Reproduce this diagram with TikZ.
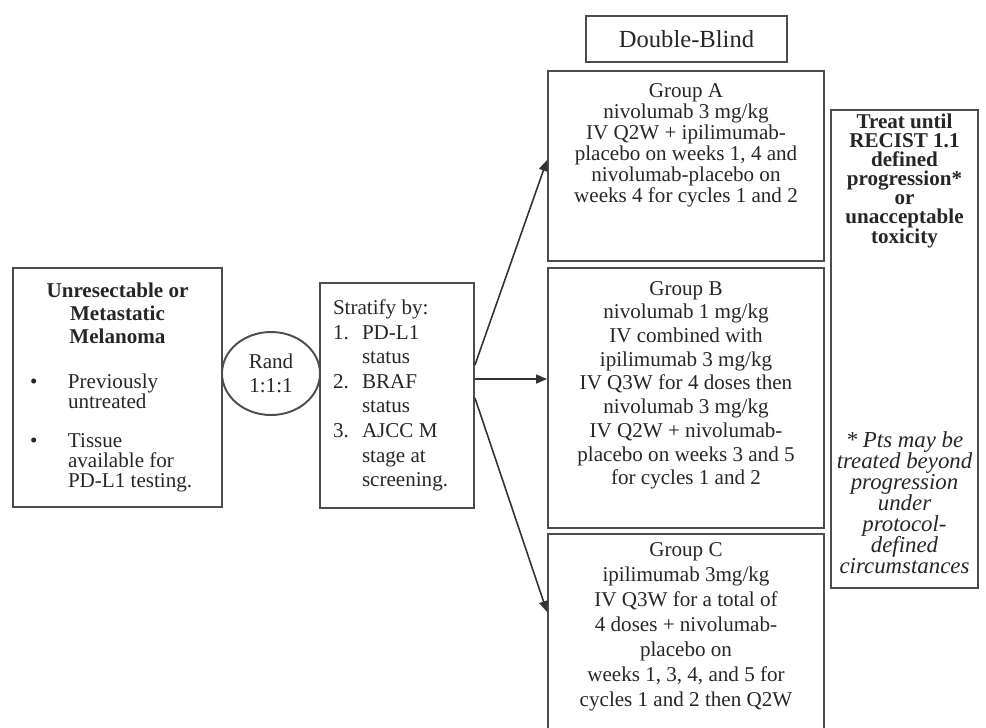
\documentclass[tikz,border=0pt]{standalone}
\usepackage{fontspec}
\setmainfont{Liberation Serif}
\usetikzlibrary{shapes.geometric}
\usetikzlibrary{arrows.meta}

\newcommand{\bulletItem}[1]{% #1: item text, lines split by \\
    \begingroup\let\\\newline
    \hangindent=1.1cm\hangafter=1\noindent\hspace*{0.34cm}\makebox[0.76cm][l]{\textbullet}#1\par
    \endgroup}
\newcommand{\numItem}[2]{% #1: number, #2: item text
    \begingroup\let\\\newline
    \hangindent=0.58cm\hangafter=1\noindent\makebox[0.58cm][l]{#1}#2\par
    \endgroup}
\newcommand{\topText}[4]{% #1: width, #2: height, #3: top gap, #4: text
    \parbox[c][#2][t]{#1}{\centering\vspace*{#3}#4}}

\begin{document}
\begin{tikzpicture}[
    x=0.02cm, y=-0.02cm,
    every node/.style={text=black!85},
    box/.style={draw=black!70, line width=1.1pt, inner sep=0pt},
    arm/.style={box, anchor=north},
    link/.style={black!80, line width=0.9pt, -{Triangle[length=2.2mm, width=1.8mm]}}
]
    % picture area, cuts off the foot of Group C
    \clip (0,0) rectangle (986,727);

    % Patients
    \node[box] (patients) at (117.5,387.5) {\parbox[c][4.78cm][c]{4.18cm}{%
        {\centering\bfseries\fontsize{12}{13}\selectfont Unresectable or\\ Metastatic\\ Melanoma\par}
        \vspace{14pt}
        \raggedright\fontsize{12}{11.4}\selectfont
        \bulletItem{Previously\\ untreated}
        \vspace{10.8pt}
        \bulletItem{Tissue\\ available for\\ PD-L1 testing.}}};

    % Randomisation
    \node[draw=black!70, line width=1.1pt, ellipse, minimum width=1.96cm, minimum height=1.66cm,
        inner sep=0pt, align=center, font=\fontsize{12}{14}\selectfont] (rand) at (271,373.5) {Rand\\1:1:1};

    % Stratification
    \node[box] (stratify) at (397,395.5) {\parbox[c][4.5cm][c]{3.08cm}{%
        \raggedright\leftskip=0.26cm\fontsize{12}{14}\selectfont
        Stratify by:\par
        \numItem{1.}{PD-L1\\ status}
        \numItem{2.}{BRAF\\ status}
        \numItem{3.}{AJCC M\\ stage at\\ screening.}}};

    % Arms
    \node[box, minimum width=4.02cm, minimum height=0.92cm, font=\fontsize{14}{16}\selectfont] (blind) at (686.5,39) {Double-Blind};

    \node[arm] (grpA) at (686,70) {\topText{5.52cm}{3.8cm}{7pt}{\fontsize{12}{12}\selectfont
        Group A\\ nivolumab 3 mg/kg\\ IV Q2W + ipilimumab-\\ placebo on weeks 1, 4 and\\
        nivolumab-placebo on\\ weeks 4 for cycles 1 and 2}};
    \node[arm] (grpB) at (686,267) {\topText{5.52cm}{5.2cm}{7.5pt}{\fontsize{12}{13.5}\selectfont
        Group B\\ nivolumab 1 mg/kg\\ IV combined with\\ ipilimumab 3 mg/kg\\ IV Q3W for 4 doses then\\
        nivolumab 3 mg/kg\\ IV Q2W + nivolumab-\\ placebo on weeks 3 and 5\\ for cycles 1 and 2}};
    \node[arm] (grpC) at (686,533) {\topText{5.52cm}{4.4cm}{5pt}{\fontsize{12}{14.2}\selectfont
        Group C\\ ipilimumab 3mg/kg\\ IV Q3W for a total of\\ 4 doses + nivolumab-\\ placebo on\\
        weeks 1, 3, 4, and 5 for\\ cycles 1 and 2 then Q2W}};

    % Treatment note
    \node[box] (treat) at (904.5,349) {\parbox[c][9.56cm][t]{2.94cm}{\centering
        \vspace*{2pt}{\bfseries\fontsize{12}{10.8}\selectfont Treat until\\ RECIST 1.1\\ defined\\ progression*\\ or\\ unacceptable\\ toxicity\par}
        \vfill
        {\itshape\fontsize{13}{12}\selectfont * Pts may be\\ treated beyond\\ progression\\ under\\ protocol-\\ defined\\ circumstances\par}
        \vspace*{8pt}}};

    % Arrows to the arms
    \coordinate (fork) at ([yshift=0.33cm]stratify.east);
    \draw[link] ([yshift=0.28cm]fork) -- ([yshift=-1.8cm]grpA.north west);
    \draw[link] (fork) -- (fork -| grpB.west);
    \draw[link] ([yshift=-0.38cm]fork) -- ([yshift=-1.58cm]grpC.north west);

\end{tikzpicture}
\end{document}
